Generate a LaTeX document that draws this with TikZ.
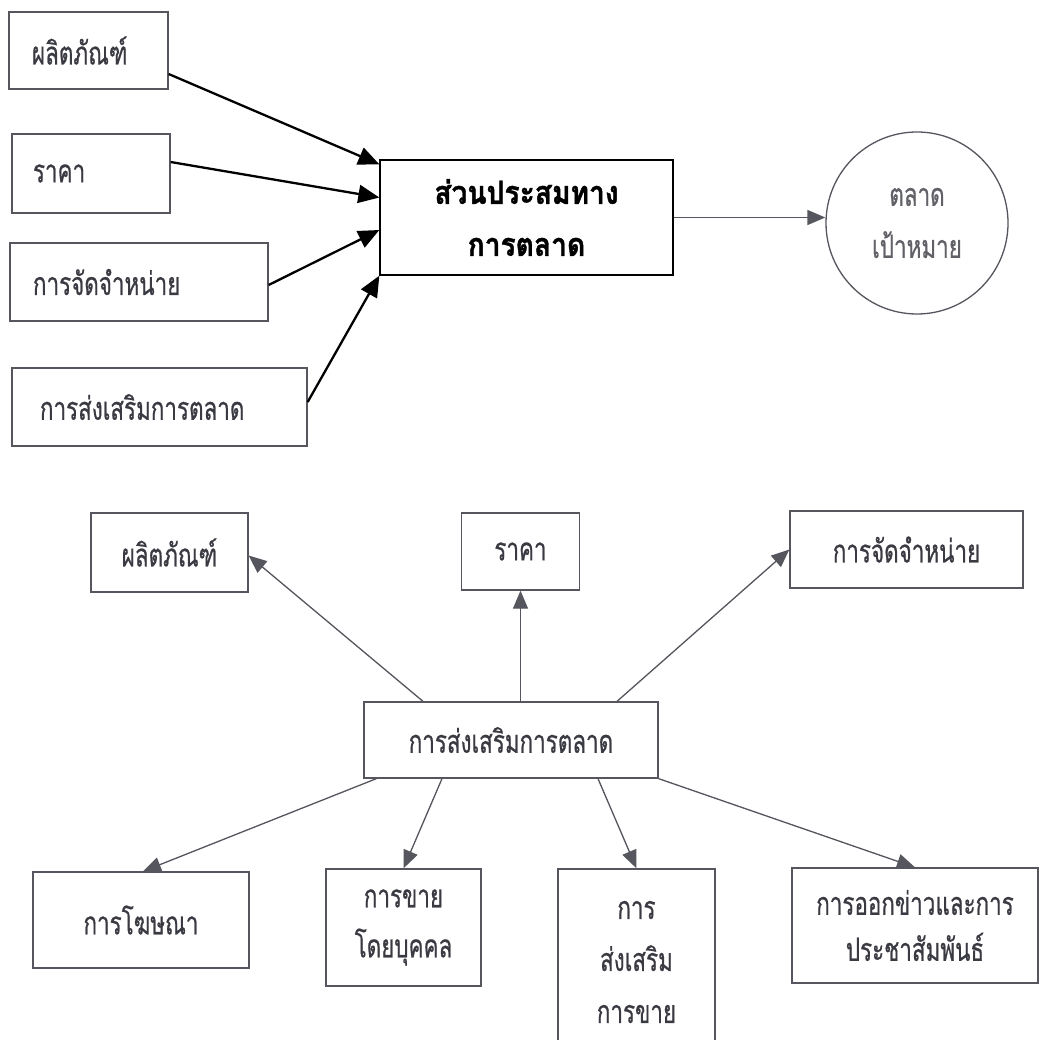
\documentclass[tikz,border=0pt]{standalone}
\usepackage{fontspec}
\newfontfamily\thai[Script=Thai,FakeStretch=0.7,FakeBold=0.6]{Loma}
\newfontfamily\thaibold[Script=Thai,FakeStretch=0.88,FakeBold=1.2]{Loma}
\usetikzlibrary{shapes.geometric,arrows.meta,calc}
\definecolor{txt}{HTML}{3A3A42}
\definecolor{ln}{HTML}{55565E}
\definecolor{tip}{HTML}{45464F}
\tikzset{
  box/.style={draw=ln, line width=1.3pt, text=txt, inner sep=0pt, align=center,
    font=\thai\fontsize{32pt}{50pt}\selectfont},
  lbox/.style={box, align=left},
  bigarrow/.style={-{Triangle[length=21pt,width=18pt]}, line width=2.3pt, black},
  smallarrow/.style={-{Triangle[length=18pt,width=15pt]}, line width=1.3pt, draw=ln, fill=tip},
}
\begin{document}
\begin{tikzpicture}[x=1pt,y=-1pt]
\clip (0,0) rectangle (1040,1040);
\fill[white] (0,0) rectangle (1040,1040);

% ---------- top section ----------
\node[lbox, minimum width=159pt, minimum height=77pt, text width=113pt, inner xsep=23pt] (t1) at (88.5,50.5) {ผลิตภัณฑ์};
\node[lbox, minimum width=158pt, minimum height=79pt, text width=116pt, inner xsep=21pt] (t2) at (91,173.5) {ราคา};
\node[lbox, minimum width=258pt, minimum height=78pt, text width=212pt, inner xsep=23pt] (t3) at (139,282) {การจัดจำหน่าย};
\node[lbox, minimum width=295pt, minimum height=78pt, text width=239pt, inner xsep=28pt] (t4) at (159.5,407) {การส่งเสริมการตลาด};

\node[box, draw=black, text=black, minimum width=293pt, minimum height=115pt, font=\thaibold\bfseries\fontsize{32pt}{52pt}\selectfont] (mix) at (526.5,217.5) {ส่วนประสมทาง\\การตลาด};

\node[box, ellipse, text=txt!80, minimum width=182pt, minimum height=182pt, font=\thai\fontsize{32pt}{52pt}\selectfont] (tgt) at (917,223) {ตลาด\\เป้าหมาย};

\draw[bigarrow] ([yshift=-23.5pt]t1.east) -- ([yshift=-5pt]mix.north west);
\draw[bigarrow] ([yshift=11.5pt]t2.east) -- ([yshift=20pt]mix.west);
\draw[bigarrow] ([yshift=-3pt]t3.east) -- ([yshift=-12.5pt]mix.west);
\draw[bigarrow] ([yshift=5pt]t4.east) -- (mix.south west);
\draw[smallarrow] (mix.east) -- (mix.east -| tgt.west);

% ---------- bottom section ----------
\node[box, minimum width=157pt, minimum height=79pt] (b1) at (169.5,552.5) {ผลิตภัณฑ์};
\node[box, minimum width=118pt, minimum height=77pt] (b2) at (520.5,551.5) {ราคา};
\node[box, minimum width=233pt, minimum height=77pt] (b3) at (906.5,549.5) {การจัดจำหน่าย};

\node[box, minimum width=294pt, minimum height=76pt] (mix2) at (511,740) {การส่งเสริมการตลาด};

\node[box, minimum width=216pt, minimum height=96pt] (b4) at (141,920) {การโฆษณา};
\node[box, minimum width=155pt, minimum height=117pt] (b5) at (403.5,927.5) {การขาย\\โดยบุคคล};
\node[box, minimum width=157pt, minimum height=186pt, font=\thai\fontsize{32pt}{52pt}\selectfont] (b6) at (636.5,962) {การ\\ส่งเสริม\\การขาย};
\node[box, minimum width=246pt, minimum height=115pt, font=\thai\fontsize{32pt}{46pt}\selectfont] (b7) at (915,925.5) {การออกข่าวและการ\\ประชาสัมพันธ์};

\draw[smallarrow] ([xshift=-88pt]mix2.north) -- ([yshift=-3pt]b1.east);
\draw[smallarrow] (b2.south |- mix2.north) -- (b2.south);
\draw[smallarrow] ([xshift=106pt]mix2.north) -- (b3.west);
\draw[smallarrow] ([xshift=13pt]mix2.south west) -- ([xshift=2pt]b4.north);
\draw[smallarrow] ([xshift=-69pt]mix2.south) -- (b5.north);
\draw[smallarrow] ([xshift=87pt]mix2.south) -- (b6.north);
\draw[smallarrow] (mix2.south east) -- (b7.north);
\end{tikzpicture}
\end{document}
